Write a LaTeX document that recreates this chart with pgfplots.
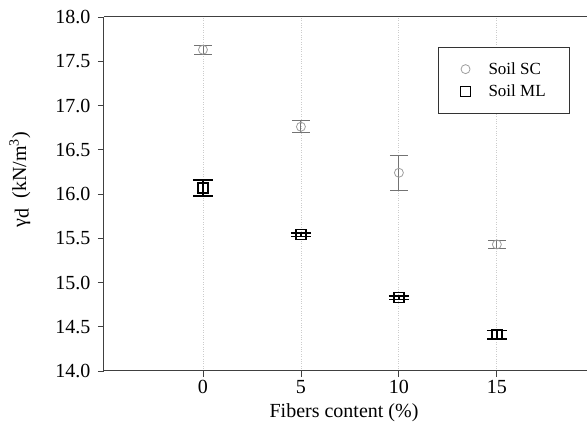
\documentclass[border=0pt]{standalone}
\usepackage{pgfplots}
\pgfplotsset{compat=1.18}
\usepackage{fontspec}
\setmainfont{Liberation Serif}
\definecolor{scgray}{gray}{0.62}
\definecolor{scbar}{gray}{0.45}
\begin{document}
\begin{tikzpicture}
\begin{axis}[
  at={(0,0)}, anchor=south west,
  scale only axis,
  width=483pt, height=354pt,
  xmin=-5.05, xmax=19.6,
  ymin=14, ymax=18,
  axis x line*=box, axis y line*=left,
  axis line style={draw=black!75, line width=1pt},
  xtick={0,5,10,15},
  ytick={14,14.5,...,18},
  tick align=outside,
  major tick length=6pt,
  tick style={black!75, line width=0.8pt},
  xtick pos=bottom, ytick pos=left,
  yticklabel style={xshift=-4pt, /pgf/number format/.cd, fixed, fixed zerofill, precision=1},
  /pgf/number format/assume math mode=true,
  ticklabel style={font=\fontsize{20}{24}\selectfont},
  xmajorgrids=true,
  major grid style={draw=black!20, dotted, line width=0.8pt},
  xlabel={Fibers content (\%)},
  ylabel={γ\raisebox{-0.25ex}{d}\ \ (kN/m\textsuperscript{3})},
  label style={font=\fontsize{20}{24}\selectfont},
  xlabel style={at={(axis description cs:0.497,0)}, anchor=north, yshift=-29pt},
  ylabel style={at={(axis description cs:-0.174,0.54)}, anchor=center},
  legend style={at={(0.965,0.915)}, anchor=north east, draw=black!80, line width=0.8pt,
    font=\fontsize{17}{20}\selectfont, inner xsep=22pt, inner ysep=13pt,
    row sep=5pt},
  legend cell align=left,
]
% Soil SC: grey open circles with thin grey error bars
\addplot[only marks, mark=o, mark size=4.5pt, color=scgray, line width=0.8pt,
  error bars/.cd, y dir=both, y explicit,
  error bar style={scbar, line width=0.9pt},
  error mark options={rotate=90, mark size=9pt, scbar, line width=0.9pt}]
  table[x=x, y=y, y error=e] {
  x  y     e
  0  17.63 0.05
  5  16.76 0.07
  10 16.24 0.20
  15 15.43 0.05
  };
\addlegendentry{\hspace{16pt}Soil SC}
% Soil ML: black open squares with bold error bars
\addplot[only marks, mark=square, mark size=5pt, color=black, line width=1.5pt,
  error bars/.cd, y dir=both, y explicit,
  error bar style={black, line width=1.5pt},
  error mark options={rotate=90, mark size=10pt, black, line width=1.5pt}]
  table[x=x, y=y, y error=e] {
  x  y     e
  0  16.07 0.09
  5  15.54 0.02
  10 14.83 0.02
  15 14.41 0.05
  };
\addlegendentry{\hspace{16pt}Soil ML}
\end{axis}
\pgfresetboundingbox
\useasboundingbox (-104pt,-62pt) rectangle (483pt,371pt);
\end{tikzpicture}
\end{document}
